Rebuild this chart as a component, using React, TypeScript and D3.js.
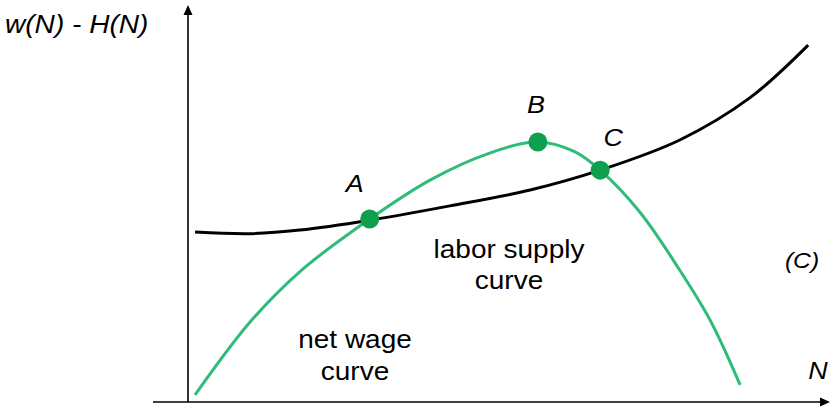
import React from "react";
import * as d3 from "d3";

// N on a 0..100 scale, value on a 0..100 scale
const supplyN = [1.1, 9.7, 17.4, 28.3, 40.8, 53.3, 64.2, 76.6, 87.5, 96.6];
const supplyV = [42.8, 42.4, 43.3, 45.8, 49.4, 53.4, 58.4, 66.0, 76.6, 89.9];

const wageN = [1.1, 9.7, 17.4, 28.3, 37.7, 47.0, 54.5, 60.3, 64.2, 70.4, 76.6, 81.3, 86.0];
const wageV = [1.8, 20.2, 32.8, 46.1, 55.9, 62.7, 65.5, 63.0, 58.4, 47.8, 33.2, 20.7, 4.3];

const pointNames = ["A", "B", "C"];
const pointN = [28.3, 54.5, 64.2];
const pointV = [46.1, 65.5, 58.4];

const W = 831;
const H = 409;
const font = "'Liberation Sans', Arial, sans-serif";

// the picture is a bit stretched sideways, so the text is too
const Label = ({ x, y, size, italic, anchor, sx = 1.12, children }: any) => (
  <text
    transform={`translate(${x},${y}) scale(${sx},1)`}
    fontSize={size}
    fontStyle={italic ? "italic" : "normal"}
    textAnchor={anchor || "start"}
  >
    {children}
  </text>
);

const App = () => {
  const x = d3.scaleLinear().domain([0, 100]).range([188, 830]);
  const y = d3.scaleLinear().domain([0, 100]).range([402, 5]);

  const line = d3
    .line<[number, number]>()
    .x((d) => x(d[0]))
    .y((d) => y(d[1]))
    .curve(d3.curveCatmullRom.alpha(0.5));

  const supply = supplyN.map((n, i) => [n, supplyV[i]] as [number, number]);
  const wage = wageN.map((n, i) => [n, wageV[i]] as [number, number]);

  // label offsets for A, B, C
  const labelOff = [
    [-15, -27],
    [-2, -29],
    [13, -24],
  ];

  return (
    <svg
      width={W}
      height={H}
      style={{ position: "absolute", left: 0, top: 0, background: "#fff" }}
      fontFamily={font}
    >
      {/* axes */}
      <line x1={x(0)} x2={x(0)} y1={y(0)} y2={y(100) + 6} stroke="#000" strokeWidth={1.6} />
      <path d={`M${x(0)},${y(100)} l-4.5,10 l9,0 Z`} fill="#000" />
      <line x1={153} x2={x(100) - 6} y1={y(0)} y2={y(0)} stroke="#000" strokeWidth={1.6} />
      <path d={`M${x(100)},${y(0)} l-10,-4.5 l0,9 Z`} fill="#000" />

      {/* curves */}
      <path d={line(supply) || ""} fill="none" stroke="#000" strokeWidth={3} />
      <path d={line(wage) || ""} fill="none" stroke="#2fbb78" strokeWidth={3} />

      {pointN.map((n, i) => (
        <g key={pointNames[i]}>
          <circle cx={x(n)} cy={y(pointV[i])} r={9.5} fill="#0fa04f" />
          <Label
            x={x(n) + labelOff[i][0]}
            y={y(pointV[i]) + labelOff[i][1]}
            size={24}
            italic
            anchor="middle"
          >
            {pointNames[i]}
          </Label>
        </g>
      ))}

      <Label x={5} y={33} size={26} italic sx={1.08}>w(N) - H(N)</Label>
      <Label x={818} y={379} size={24} italic anchor="middle">N</Label>
      <Label x={802} y={268} size={22} italic anchor="middle">(C)</Label>

      <Label x={509} y={258} size={25} anchor="middle">labor supply</Label>
      <Label x={509} y={289} size={25} anchor="middle">curve</Label>
      <Label x={355} y={348} size={25} anchor="middle">net wage</Label>
      <Label x={355} y={380} size={25} anchor="middle">curve</Label>
    </svg>
  );
};

export default App;
